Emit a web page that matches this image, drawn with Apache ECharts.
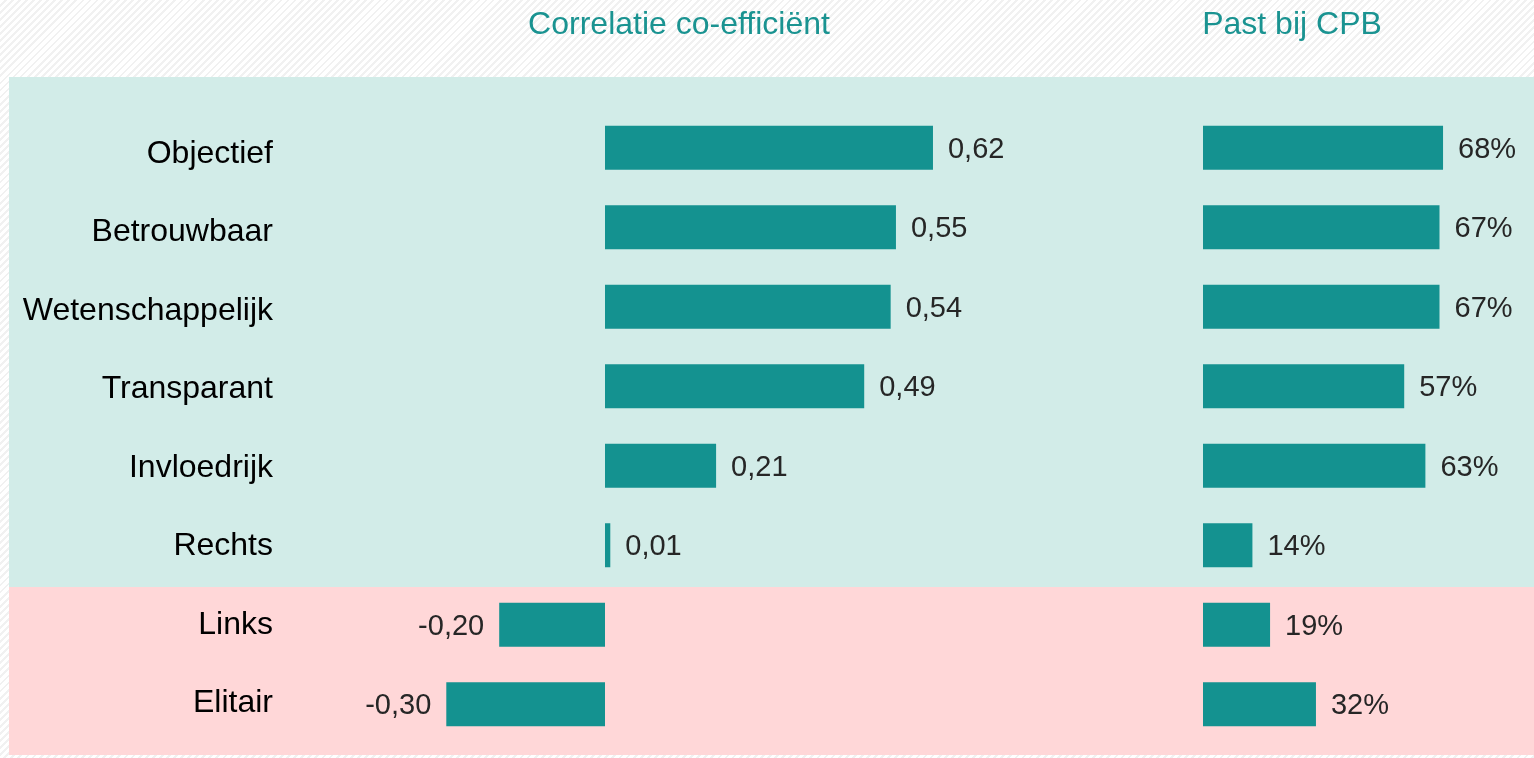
<!DOCTYPE html>
<html>
<head>
<meta charset="utf-8">
<script src="https://cdn.jsdelivr.net/npm/echarts@6/dist/echarts.min.js"></script>
<style>
  html, body { margin: 0; padding: 0; }
  body {
    background: repeating-linear-gradient(135deg, #ffffff 0px, #ffffff 3px, #f1f1f1 3px, #f1f1f1 5px);
  }
  #chart { width: 1534px; height: 758px; }
</style>
</head>
<body>
<div id="chart"></div>
<script>
// categorieën (van boven naar beneden)
const categories = ['Objectief', 'Betrouwbaar', 'Wetenschappelijk', 'Transparant', 'Invloedrijk', 'Rechts', 'Links', 'Elitair'];
// correlatie co-efficiënt
const correlatie = [0.62, 0.55, 0.54, 0.49, 0.21, 0.01, -0.20, -0.30];
// past bij CPB (%)
const pastBijCPB = [68, 67, 67, 57, 63, 14, 19, 32];

const teal = '#149290';
const labelColor = '#262626';
const font = '"Liberation Sans", Arial, sans-serif';

const chart = echarts.init(document.getElementById('chart'));

const valueLabel = {
  show: true,
  distance: 15,
  color: labelColor,
  fontSize: 29,
  fontFamily: font,
  offset: [0, 2]
};

const option = {
  backgroundColor: 'transparent',
  textStyle: { fontFamily: font },
  graphic: [
    // achtergrondvlakken
    { type: 'rect', z: -10, shape: { x: 9, y: 77, width: 1525, height: 510 }, style: { fill: '#d2ece8' } },
    { type: 'rect', z: -10, shape: { x: 9, y: 587, width: 1525, height: 168 }, style: { fill: '#ffd7d8' } }
  ],
  title: [{
    text: 'Correlatie co-efficiënt',
    left: 674, top: 4, textAlign: 'center',
    textStyle: { color: '#1a9391', fontSize: 32, fontWeight: 'normal', fontFamily: font }
  }, {
    text: 'Past bij CPB',
    left: 1287, top: 4, textAlign: 'center',
    textStyle: { color: '#1a9391', fontSize: 32, fontWeight: 'normal', fontFamily: font }
  }],
  grid: [
    { left: 605 - 0.4 * 529, top: 108, width: 1.1 * 529, height: 636 },
    { left: 1203, top: 108, width: 80 * 3.53, height: 636 },
    // alleen voor de categorielabels (iets kleinere rijafstand dan de balken)
    { left: 280, top: 114.75, width: 10, height: 628 }
  ],
  xAxis: [
    { gridIndex: 0, type: 'value', min: -0.4, max: 0.7, show: false },
    { gridIndex: 1, type: 'value', min: 0, max: 80, show: false },
    { gridIndex: 2, type: 'value', min: 0, max: 1, show: false }
  ],
  yAxis: [{
    gridIndex: 0,
    type: 'category',
    inverse: true,
    data: categories,
    show: false
  }, {
    gridIndex: 1,
    type: 'category',
    inverse: true,
    data: categories,
    show: false
  }, {
    gridIndex: 2,
    type: 'category',
    inverse: true,
    data: categories,
    axisLine: { show: false },
    axisTick: { show: false },
    splitLine: { show: false },
    axisLabel: {
      margin: 7,
      color: '#000',
      fontSize: 32,
      fontFamily: font
    }
  }],
  series: [{
    name: 'Correlatie co-efficiënt',
    type: 'bar',
    xAxisIndex: 0,
    yAxisIndex: 0,
    barWidth: 44,
    itemStyle: { color: teal },
    data: correlatie.map(v => ({
      value: v,
      label: { position: v < 0 ? 'left' : 'right' }
    })),
    label: Object.assign({}, valueLabel, {
      formatter: p => p.value.toFixed(2).replace('.', ',')
    })
  }, {
    name: 'Past bij CPB',
    type: 'bar',
    xAxisIndex: 1,
    yAxisIndex: 1,
    barWidth: 44,
    itemStyle: { color: teal },
    data: pastBijCPB,
    label: Object.assign({}, valueLabel, {
      position: 'right',
      formatter: '{c}%'
    })
  }]
};

chart.setOption(option);
</script>
</body>
</html>
